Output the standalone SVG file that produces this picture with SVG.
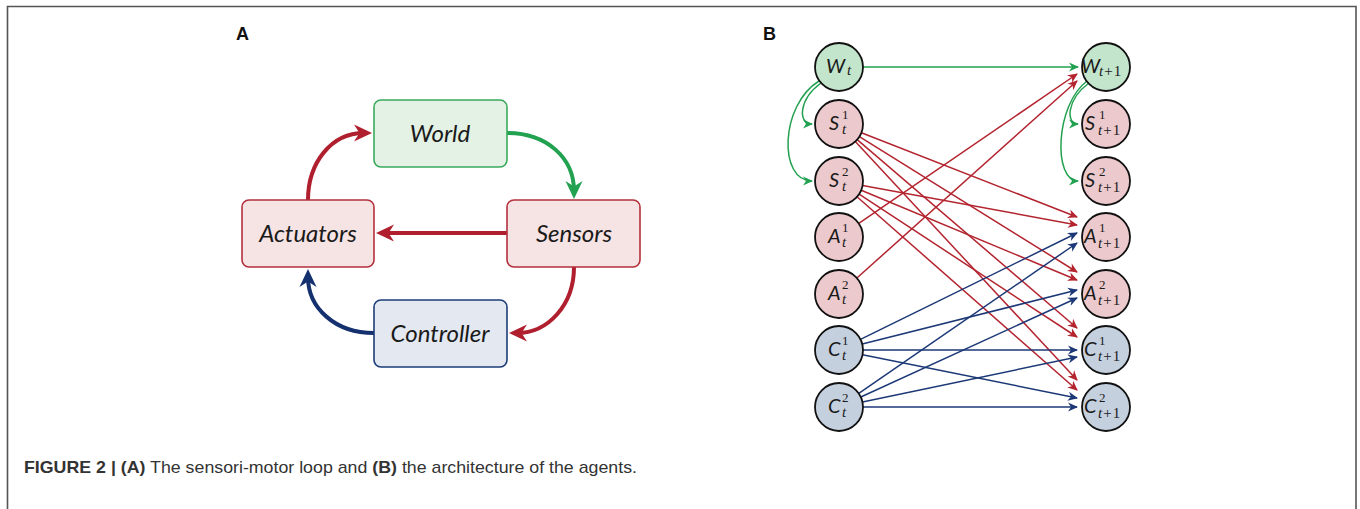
<svg xmlns="http://www.w3.org/2000/svg" width="1360" height="509" viewBox="0 0 1360 509">
<style>
.frame{stroke:#555;stroke-width:1.6;fill:none}
.lbl{font-family:"Liberation Sans",Arial,sans-serif;font-weight:bold;font-size:18px;fill:#111}
.cap{font-family:"Liberation Sans",Arial,sans-serif;font-size:17px;fill:#333}
.cap .b{font-weight:bold}
.box{stroke-width:1.6}
.bt{font-family:Lato,"Open Sans",sans-serif;font-style:italic;font-size:24px;fill:#1a1a1a;text-anchor:middle}
.g .box{fill:#e3f2e4;stroke:#3aaa5c}
.r .box{fill:#f6e3e3;stroke:#b3303c}
.bl .box{fill:#e3e8f1;stroke:#1d3c78}
.ta{fill:none;stroke-width:4}
.tr{stroke:#b01f2e}
.tg{stroke:#22a150}
.tb{stroke:#14306e}
.c{stroke:#111;stroke-width:1.8}
.cg{fill:#c3e5cb}
.cr{fill:#ecc9cc}
.cb{fill:#c5d0df}
.m{font-family:Lato,"Open Sans",sans-serif;font-style:italic;font-size:20px;fill:#1a1a1a}
.s{font-family:"Liberation Serif","Times New Roman",serif;font-size:15px;fill:#1a1a1a}
.s2{font-family:"Liberation Serif","Times New Roman",serif;font-size:15px;fill:#1a1a1a;letter-spacing:1px}
.p{font-family:"Liberation Serif","Times New Roman",serif;font-size:13px;fill:#1a1a1a}
.i{font-style:italic}
.e{fill:none;stroke-width:1.5}
.er{stroke:#b3242f}
.eg{stroke:#22a150}
.eb{stroke:#1c3876}
</style>
<defs>
<marker id="hR" markerUnits="userSpaceOnUse" markerWidth="30" markerHeight="30" viewBox="-20 -10 30 20" refX="0" refY="0" orient="auto"><path d="M8,0 L-10,-8.5 L-4.5,0 L-10,8.5 z" fill="#b01f2e"/></marker>
<marker id="hG" markerUnits="userSpaceOnUse" markerWidth="30" markerHeight="30" viewBox="-20 -10 30 20" refX="0" refY="0" orient="auto"><path d="M8,0 L-10,-8.5 L-4.5,0 L-10,8.5 z" fill="#22a150"/></marker>
<marker id="hB" markerUnits="userSpaceOnUse" markerWidth="30" markerHeight="30" viewBox="-20 -10 30 20" refX="0" refY="0" orient="auto"><path d="M8,0 L-10,-8.5 L-4.5,0 L-10,8.5 z" fill="#14306e"/></marker>
<marker id="sR" markerUnits="userSpaceOnUse" markerWidth="16" markerHeight="12" viewBox="-12 -6 16 12" refX="0" refY="0" orient="auto"><path d="M1,0 L-9,-4.5 L-6,0 L-9,4.5 z" fill="#b3242f"/></marker>
<marker id="sG" markerUnits="userSpaceOnUse" markerWidth="16" markerHeight="12" viewBox="-12 -6 16 12" refX="0" refY="0" orient="auto"><path d="M1,0 L-9,-4.5 L-6,0 L-9,4.5 z" fill="#22a150"/></marker>
<marker id="sB" markerUnits="userSpaceOnUse" markerWidth="16" markerHeight="12" viewBox="-12 -6 16 12" refX="0" refY="0" orient="auto"><path d="M1,0 L-9,-4.5 L-6,0 L-9,4.5 z" fill="#1c3876"/></marker>
</defs>
<rect width="1360" height="509" fill="#fff"/>
<path class="frame" d="M7.5,509 L7.5,6.5 L1356,6.5 L1356,509"/>
<text class="lbl" x="236" y="40">A</text>
<text class="lbl" x="763" y="40">B</text>

<!-- Panel A connectors -->
<g id="connectors-a">
<path class="ta tr" d="M308,200 C308,163 331,133 364,133" marker-end="url(#hR)"/>
<path class="ta tg" d="M507,133 C547,133 574,158 574,191" marker-end="url(#hG)"/>
<path class="ta tr" d="M507,233 L384,233" marker-end="url(#hR)"/>
<path class="ta tr" d="M574,267 C574,305 548,333 517,333" marker-end="url(#hR)"/>
<path class="ta tb" d="M374,333 C335,333 308,308 308,277" marker-end="url(#hB)"/>
</g>

<g id="world" class="g"><rect class="box" x="374" y="100" width="133" height="67" rx="7"/><text class="bt" x="440" y="142">World</text></g>
<g id="sensors" class="r"><rect class="box" x="507" y="200" width="133" height="67" rx="7"/><text class="bt" x="574" y="242">Sensors</text></g>
<g id="actuators" class="r"><rect class="box" x="242" y="200" width="132" height="67" rx="7"/><text class="bt" x="308" y="242">Actuators</text></g>
<g id="controller" class="bl"><rect class="box" x="374" y="300" width="133" height="67" rx="7"/><text class="bt" x="440" y="342">Controller</text></g>

<!-- Panel B connectors -->
<g id="connectors-b">
<line class="e eg" x1="863" y1="67" x2="1078" y2="67" marker-end="url(#sG)"/>
<path class="e eg" d="M821,83 C798,100 798,124 812,124" marker-end="url(#sG)"/>
<path class="e eg" d="M819,81 C780,105 778,181 812,181" marker-end="url(#sG)"/>
<path class="e eg" d="M1089,83 C1066,100 1066,124 1078,124" marker-end="url(#sG)"/>
<path class="e eg" d="M1087,81 C1055,105 1053,181 1078,181" marker-end="url(#sG)"/>

<line class="e er" x1="861.4" y1="132.7" x2="1077" y2="217" marker-end="url(#sR)"/>
<line class="e er" x1="859.4" y1="136.7" x2="1077" y2="272" marker-end="url(#sR)"/>
<line class="e er" x1="857.2" y1="139.6" x2="1077" y2="328" marker-end="url(#sR)"/>
<line class="e er" x1="855.3" y1="141.6" x2="1077" y2="380" marker-end="url(#sR)"/>
<line class="e er" x1="862.6" y1="185.4" x2="1077" y2="225" marker-end="url(#sR)"/>
<line class="e er" x1="861.2" y1="190.2" x2="1077" y2="280" marker-end="url(#sR)"/>
<line class="e er" x1="859.1" y1="194.2" x2="1077" y2="337" marker-end="url(#sR)"/>
<line class="e er" x1="857.0" y1="196.8" x2="1077" y2="390" marker-end="url(#sR)"/>
<line class="e er" x1="858.8" y1="223.4" x2="1077" y2="74" marker-end="url(#sR)"/>
<line class="e er" x1="856.9" y1="278.0" x2="1077" y2="81" marker-end="url(#sR)"/>

<line class="e eb" x1="860.5" y1="339.4" x2="1077" y2="233" marker-end="url(#sB)"/>
<line class="e eb" x1="862.3" y1="344.1" x2="1077" y2="290" marker-end="url(#sB)"/>
<line class="e eb" x1="863" y1="350" x2="1077" y2="350" marker-end="url(#sB)"/>
<line class="e eb" x1="862.5" y1="354.7" x2="1077" y2="398" marker-end="url(#sB)"/>
<line class="e eb" x1="858.8" y1="393.4" x2="1077" y2="243" marker-end="url(#sB)"/>
<line class="e eb" x1="860.8" y1="397.0" x2="1077" y2="298" marker-end="url(#sB)"/>
<line class="e eb" x1="862.5" y1="402.1" x2="1077" y2="357" marker-end="url(#sB)"/>
<line class="e eb" x1="863" y1="407" x2="1077" y2="407" marker-end="url(#sB)"/>
</g>

<!-- Panel B nodes, time t -->
<g id="Wt"><circle class="c cg" cx="839" cy="67" r="24"/><text class="m" x="826" y="73">W</text><text class="s i" x="847" y="75">t</text></g>
<g id="S1t"><circle class="c cr" cx="839" cy="124" r="24"/><text class="m" x="829" y="130">S</text><text class="p" x="842" y="119">1</text><text class="s i" x="842" y="134">t</text></g>
<g id="S2t"><circle class="c cr" cx="839" cy="181" r="24"/><text class="m" x="829" y="187">S</text><text class="p" x="842" y="176">2</text><text class="s i" x="842" y="191">t</text></g>
<g id="A1t"><circle class="c cr" cx="839" cy="237" r="24"/><text class="m" x="828" y="243">A</text><text class="p" x="842" y="232">1</text><text class="s i" x="842" y="247">t</text></g>
<g id="A2t"><circle class="c cr" cx="839" cy="294" r="24"/><text class="m" x="828" y="300">A</text><text class="p" x="842" y="289">2</text><text class="s i" x="842" y="304">t</text></g>
<g id="C1t"><circle class="c cb" cx="839" cy="350" r="24"/><text class="m" x="828" y="356">C</text><text class="p" x="842" y="345">1</text><text class="s i" x="842" y="360">t</text></g>
<g id="C2t"><circle class="c cb" cx="839" cy="407" r="24"/><text class="m" x="828" y="413">C</text><text class="p" x="842" y="402">2</text><text class="s i" x="842" y="417">t</text></g>

<!-- Panel B nodes, time t+1 -->
<g id="Wt1"><circle class="c cg" cx="1106" cy="67" r="24"/><text class="m" x="1081" y="73">W</text><text class="s2" x="1099" y="76"><tspan class="i">t</tspan>+1</text></g>
<g id="S1t1"><circle class="c cr" cx="1106" cy="124" r="24"/><text class="m" x="1085" y="130">S</text><text class="p" x="1099" y="119">1</text><text class="s2" x="1098" y="135"><tspan class="i">t</tspan>+1</text></g>
<g id="S2t1"><circle class="c cr" cx="1106" cy="181" r="24"/><text class="m" x="1085" y="187">S</text><text class="p" x="1099" y="176">2</text><text class="s2" x="1098" y="192"><tspan class="i">t</tspan>+1</text></g>
<g id="A1t1"><circle class="c cr" cx="1106" cy="237" r="24"/><text class="m" x="1084" y="243">A</text><text class="p" x="1099" y="232">1</text><text class="s2" x="1098" y="248"><tspan class="i">t</tspan>+1</text></g>
<g id="A2t1"><circle class="c cr" cx="1106" cy="294" r="24"/><text class="m" x="1084" y="300">A</text><text class="p" x="1099" y="289">2</text><text class="s2" x="1098" y="305"><tspan class="i">t</tspan>+1</text></g>
<g id="C1t1"><circle class="c cb" cx="1106" cy="350" r="24"/><text class="m" x="1084" y="356">C</text><text class="p" x="1099" y="345">1</text><text class="s2" x="1098" y="361"><tspan class="i">t</tspan>+1</text></g>
<g id="C2t1"><circle class="c cb" cx="1106" cy="407" r="24"/><text class="m" x="1084" y="413">C</text><text class="p" x="1099" y="402">2</text><text class="s2" x="1098" y="418"><tspan class="i">t</tspan>+1</text></g>

<text class="cap" x="24" y="473" textLength="613" lengthAdjust="spacingAndGlyphs"><tspan class="b">FIGURE 2 | (A)</tspan> The sensori-motor loop and <tspan class="b">(B)</tspan> the architecture of the agents.</text>
</svg>
